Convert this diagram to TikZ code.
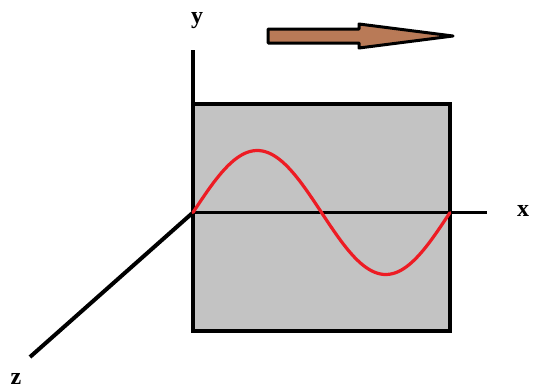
\documentclass[tikz,border=0pt]{standalone}
\usepackage{fontspec}
\setmainfont{Liberation Serif}
\definecolor{paintgray}{RGB}{195,195,195}
\definecolor{paintred}{RGB}{237,28,36}
\definecolor{paintbrown}{RGB}{185,122,87}
\begin{document}
\begin{tikzpicture}[x=1pt,y=-1pt,
  axis/.style={line width=3.5pt,line cap=butt},
  lbl/.style={font=\bfseries\fontsize{24}{26}\selectfont,inner sep=0pt},
  wave/.style={paintred,line width=3.2pt,line join=round,line cap=round}]
\useasboundingbox (0,0) rectangle (548,391);
% coordinates
\coordinate (O) at (193,212.5);
\coordinate (Ytop) at (193,50);
\coordinate (Xend) at (487,212.5);
\coordinate (Zend) at (30,357);
% plate
\draw[fill=paintgray,line width=4.5pt] (193,104) rectangle (450,331);
% axes
\draw[axis] (O) -- (Ytop);
\draw[axis] (O) -- (Xend);
\draw[axis,line width=4pt] (O) -- (Zend);
% sine wave
\draw[wave] plot[domain=0:1,samples=90] ({193+257*\x},{212.5-62*sin(360*\x)});
% labels
\node[lbl] (ylab) at (197,21) {y};
\node[lbl] (xlab) at (523,211) {x};
\node[lbl] (zlab) at (16,379) {z};
% direction arrow
\draw[fill=paintbrown,line width=3pt,line join=round]
  (268,29) -- (359,29) -- (359,24) -- (453,36) -- (359,48) -- (359,43) -- (268,43) -- cycle;
\end{tikzpicture}
\end{document}
